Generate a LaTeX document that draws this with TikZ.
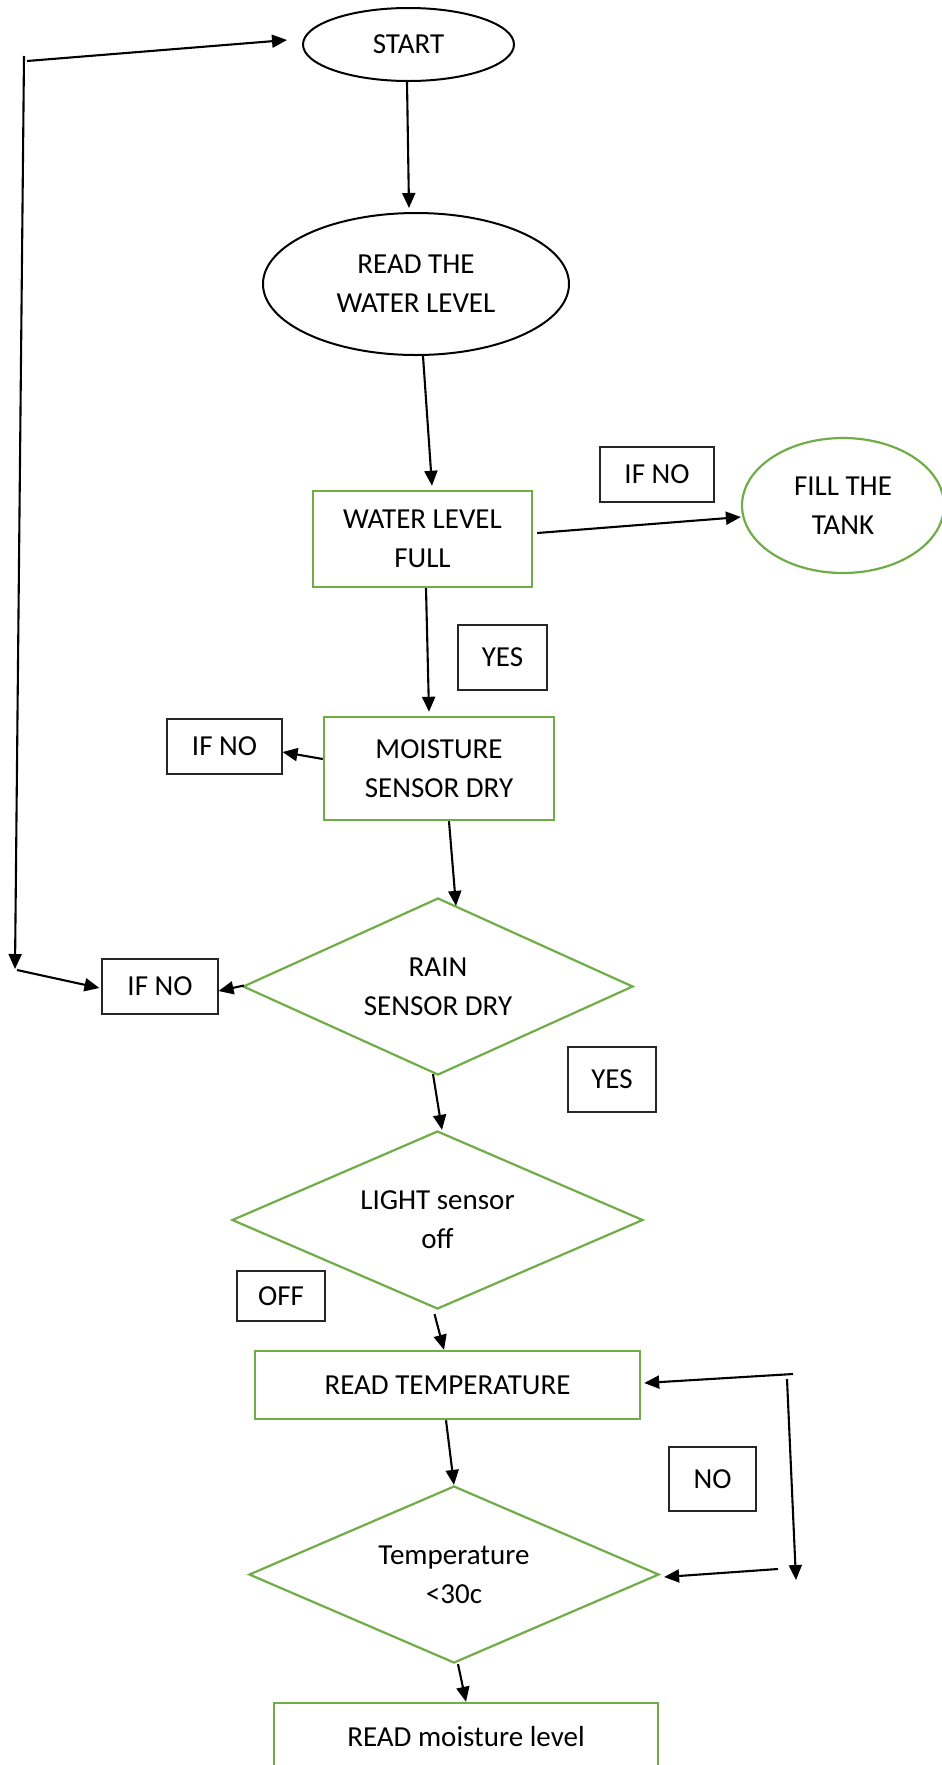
\documentclass[tikz,border=0pt]{standalone}
\usepackage{fontspec}
\setmainfont{Carlito}
\usetikzlibrary{shapes.geometric,arrows.meta}
\definecolor{grn}{HTML}{70AD47}
\begin{document}
\begin{tikzpicture}[x=1pt,y=-1pt,
  every node/.style={font=\fontsize{29}{39}\selectfont, align=center, inner sep=0pt},
  oval/.style={ellipse, draw=black, line width=2pt},
  goval/.style={ellipse, draw=grn, line width=2.2pt},
  gbox/.style={rectangle, draw=grn, line width=2.4pt},
  gdia/.style={diamond, draw=grn, line width=2.2pt},
  lbl/.style={rectangle, draw=black!85, line width=1.1pt},
  arr/.style={-{Triangle[length=15pt,width=13pt]}, line width=2.1pt, black},
]
\useasboundingbox (0,0) rectangle (942,1765);
\clip (0,0) rectangle (942,1765);
\fill[white] (0,0) rectangle (942,1765);

% nodes
\node[oval, minimum width=211pt, minimum height=73pt] (start) at (408.5,44.5) {START};
\node[oval, minimum width=306pt, minimum height=142pt] (read) at (416,284) {READ THE\\WATER LEVEL};
\node[gbox, minimum width=219pt, minimum height=96pt] (wlf) at (422.5,539) {WATER LEVEL\\FULL};
\node[lbl, minimum width=114pt, minimum height=55pt] (ifno1) at (657,474.5) {IF NO};
\node[goval, minimum width=202pt, minimum height=135pt] (fill) at (843,505.5) {FILL THE\\TANK};
\node[lbl, minimum width=89pt, minimum height=65pt] (yes1) at (502.5,657.5) {YES};
\node[gbox, minimum width=230pt, minimum height=103pt] (msd) at (439,768.5) {MOISTURE\\SENSOR DRY};
\node[lbl, minimum width=115pt, minimum height=55pt] (ifno2) at (224.5,746.5) {IF NO};
\node[gdia, aspect=2.2, minimum width=390pt, minimum height=177pt] (rain) at (438,986.5) {RAIN\\SENSOR DRY};
\node[lbl, minimum width=116pt, minimum height=55pt] (ifno3) at (160,986.5) {IF NO};
\node[lbl, minimum width=88pt, minimum height=65pt] (yes2) at (612,1079.5) {YES};
\node[gdia, aspect=2.3, minimum width=411pt, minimum height=178pt] (light) at (437.5,1220) {LIGHT sensor\\off};
\node[lbl, minimum width=88pt, minimum height=50pt] (off) at (281,1296) {OFF};
\node[gbox, minimum width=385pt, minimum height=68pt] (rt) at (447.5,1385) {READ TEMPERATURE};
\node[lbl, minimum width=87pt, minimum height=64pt] (no) at (712.5,1479) {NO};
\node[gdia, aspect=2.3, minimum width=410pt, minimum height=177pt] (temp) at (454,1574.5) {Temperature\\<30c};
\node[gbox, minimum width=384pt, minimum height=68pt] (moist) at (466,1737) {READ moisture level};

% free ends of loop lines
\coordinate (lt) at (24,56);
\coordinate (lb) at (15,969);
\coordinate (ls) at (27,61);
\coordinate (rt1) at (793,1374);
\coordinate (rv1) at (787,1379);
\coordinate (rv2) at (796,1580);
\coordinate (rl) at (778,1569);

% connectors
\draw[arr] ([xshift=-1.5pt]start.south) -- ([xshift=-7pt,yshift=4pt]read.north);
\draw[arr] ([xshift=7pt]read.south) -- ([xshift=9.5pt,yshift=4pt]wlf.north);
\draw[arr] ([xshift=4pt,yshift=6pt]wlf.east) -- ([yshift=-11.5pt]fill.west);
\draw[arr] ([xshift=3.5pt]wlf.south) -- ([xshift=-10pt,yshift=4pt]msd.north);
\draw[arr] ([yshift=9.5pt]msd.west) -- ([yshift=-5.5pt]ifno2.east);
\draw[arr] ([xshift=10pt]msd.south) -- ([xshift=18pt,yshift=-9pt]rain.north);
\draw[arr] ([xshift=2pt,yshift=1pt]rain.west) -- ([yshift=-4.5pt]ifno3.east);
\draw[arr] (lt) -- (lb);
\draw[arr] (ls) -- ([xshift=-15pt,yshift=4.5pt]start.west);
\draw[arr] ([xshift=2pt,yshift=-1pt]lb) -- ([xshift=-2pt,yshift=-1.5pt]ifno3.west);
\draw[arr] ([xshift=-5pt,yshift=2pt]rain.south) -- ([xshift=4.5pt]light.north);
\draw[arr] ([xshift=-3pt,yshift=-4pt]light.south) -- ([xshift=-3.5pt]rt.north);
\draw[arr] ([xshift=-1.5pt]rt.south) -- (temp.north);
\draw[arr] (rt1) -- ([xshift=3pt,yshift=2pt]rt.east);
\draw[arr] (rv1) -- (rv2);
\draw[arr] (rl) -- ([xshift=4pt,yshift=-2.5pt]temp.east);
\draw[arr] ([xshift=4pt]temp.south) -- (moist.north);
\end{tikzpicture}
\end{document}
